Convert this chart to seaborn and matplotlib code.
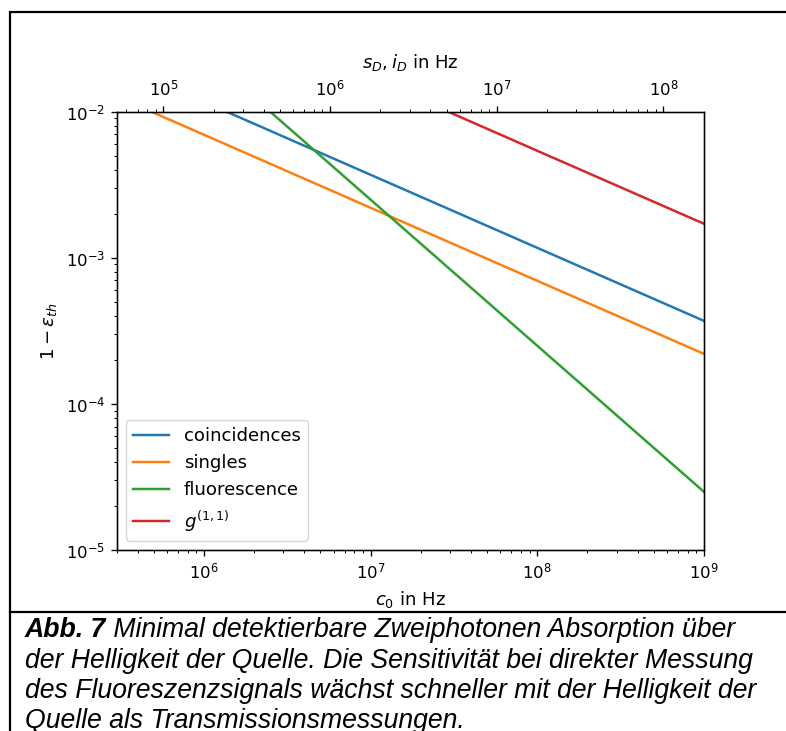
import numpy as np
import pandas as pd
import matplotlib
matplotlib.use("Agg")
import matplotlib.pyplot as plt
from matplotlib.patches import Rectangle
from matplotlib.lines import Line2D
import seaborn as sns

# ---- data ----
c0 = [3e5, 1e6, 1e7, 1e8, 1e9]
coincidences = [0.0214, 0.0117, 0.0037, 0.00117, 0.00037]
singles = [0.0127, 0.00696, 0.0022, 0.000696, 0.00022]
fluorescence = [0.0833, 0.025, 0.0025, 0.00025, 0.000025]
g11 = [0.0986, 0.054, 0.0171, 0.0054, 0.00171]
series_names = ["coincidences", "singles", "fluorescence", "$g^{(1,1)}$"]
x_limits = [3e5, 1e9]
y_limits = [1e-5, 1e-2]
top_ratio = 0.175  # s_D, i_D relative to c0

caption_bold = "Abb. 7"
caption_lines = [
    " Minimal detektierbare Zweiphotonen Absorption über",
    "der Helligkeit der Quelle. Die Sensitivität bei direkter Messung",
    "des Fluoreszenzsignals wächst schneller mit der Helligkeit der",
    "Quelle als Transmissionsmessungen.",
]

s = 1.185
plt.rcParams.update({
    "font.size": 10 * s,
    "lines.linewidth": 1.5 * s,
    "axes.linewidth": 0.8 * s,
    "axes.labelsize": 11 * s,
    "legend.fontsize": 11 * s,
    "xtick.major.size": 3.5 * s, "ytick.major.size": 3.5 * s,
    "xtick.minor.size": 2 * s, "ytick.minor.size": 2 * s,
    "xtick.major.width": 0.8 * s, "ytick.major.width": 0.8 * s,
    "xtick.minor.width": 0.6 * s, "ytick.minor.width": 0.6 * s,
    "xtick.major.pad": 3.5 * s, "ytick.major.pad": 3.5 * s,
    "axes.labelpad": 4 * s,
})

fig = plt.figure(figsize=(7.86, 7.31), dpi=100)
ax = fig.add_axes([116.7 / 786, 1 - 550 / 731, (704 - 116.7) / 786, (550 - 111.7) / 731])
ax.set_xscale("log")
ax.set_yscale("log")

df = pd.DataFrame({
    "c0": c0 * 4,
    "val": coincidences + singles + fluorescence + g11,
    "series": sum([[n] * len(c0) for n in series_names], []),
})
palette = dict(zip(series_names, ["#1f77b4", "#ff7f0e", "#2ca02c", "#d62728"]))
sns.lineplot(data=df, x="c0", y="val", hue="series", hue_order=series_names,
             palette=palette, ax=ax, legend=False, linewidth=1.5 * s)

ax.set_xlim(*x_limits)
ax.set_ylim(*y_limits)
ax.set_xlabel("$c_0$ in Hz", labelpad=4 * s + 1)
ax.set_ylabel(r"$1-\epsilon_{th}$")

handles = [Line2D([], [], color=palette[n], lw=1.5 * s) for n in series_names]
ax.legend(handles, series_names, loc="lower left")

ax2 = ax.twiny()
ax2.set_xscale("log")
ax2.set_xlim(x_limits[0] * top_ratio, x_limits[1] * top_ratio)
ax2.tick_params(axis="x", which="major", pad=3.5 * s + 1.5)
ax2.set_xlabel("$s_D, i_D$ in Hz", labelpad=4 * s + 2.5)

# frame and caption
fig.patches.append(Rectangle((10 / 786, -0.05), 1.2, 1 - 12 / 731 + 0.05,
                             transform=fig.transFigure, fill=False,
                             edgecolor="black", linewidth=1.6))
fig.add_artist(Line2D([10 / 786, 1.0], [1 - 612 / 731] * 2, transform=fig.transFigure,
                      color="black", linewidth=1.6))

cap_fs = 19.2
fam = ["Liberation Sans", "DejaVu Sans"]
baselines = [637, 667.5, 698, 728.5]
t1 = fig.text(25 / 786, 1 - baselines[0] / 731, caption_bold, fontsize=cap_fs,
              fontweight="bold", fontstyle="italic", family=fam, va="baseline")
fig.canvas.draw()
bb = t1.get_window_extent()
fig.text(bb.x1 / 786, 1 - baselines[0] / 731, caption_lines[0], fontsize=cap_fs,
         fontstyle="italic", family=fam, va="baseline")
for line, yb in zip(caption_lines[1:], baselines[1:]):
    fig.text(25 / 786, 1 - yb / 731, line, fontsize=cap_fs, fontstyle="italic",
             family=fam, va="baseline")

fig.savefig("out.png", dpi=100)
